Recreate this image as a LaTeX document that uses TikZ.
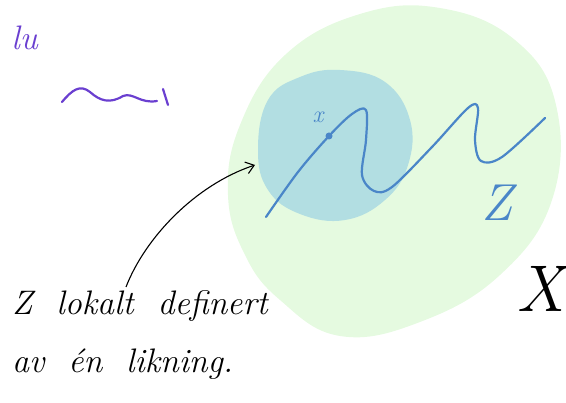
\documentclass[tikz,border=0pt]{standalone}
\usepackage{xcolor}
\usepackage{tikz}
\usetikzlibrary{arrows.meta, positioning}

\definecolor{rumgreen}{HTML}{E5FAE0}
\definecolor{nbhdteal}{HTML}{B2DEE2}
\definecolor{kurveblue}{HTML}{4A86C8}
\definecolor{penpurple}{HTML}{6A3FD0}

\tikzset{
  pen/.style={line width=2.2pt, line cap=round, line join=round},
  hand/.style={font=\fontsize{34}{58}\selectfont\itshape, inner sep=0pt},
}

\begin{document}
\begin{tikzpicture}[x=1pt, y=-1pt, >=Stealth]
    \useasboundingbox (0,0) rectangle (566,403);

    % --- rommet X (grønn flate) ---
    \fill[rumgreen] plot[smooth cycle, tension=0.7] coordinates {
        (228,195) (240,125) (285,55) (360,14) (440,8) (515,40)
        (556,105) (552,200) (500,275) (420,322) (340,336) (280,300) (245,255)};

    % --- omegn rundt x (turkis flate) ---
    \fill[nbhdteal] plot[smooth cycle, tension=0.7] coordinates {
        (258,150) (268,100) (300,77) (340,70) (385,82) (410,120)
        (408,165) (385,200) (345,220) (300,214) (268,190)};

    % --- kurven Z ---
    \draw[pen, kurveblue] plot[smooth, tension=0.55] coordinates {
        (266,217) (298,172) (329,136) (352,114) (366,110) (366,140)
        (362,175) (374,191) (392,187) (432,147) (468,108) (478,108)
        (475,140) (481,161) (502,157) (545,118)};

    % punktet x
    \fill[kurveblue] (329,136) circle (3.5pt);
    \node[font=\fontsize{24}{24}\selectfont\itshape, kurveblue] (xlabel) at (318,117) {x};

    % navnet Z
    \node[font=\fontsize{52}{52}\selectfont\itshape, kurveblue] (zlabel) at (497,203) {Z};

    % navnet X
    \node[font=\fontsize{66}{66}\selectfont\itshape, inner sep=0pt, anchor=east] (xspace) at (565,289) {X};

    % --- lilla rester oppe til venstre ---
    \node[hand, penpurple, anchor=south east] (lu) at (38,50) {lu};
    \draw[pen, penpurple] (62,102) .. controls (72,90) and (80,84) .. (90,92)
        .. controls (100,101) and (110,104) .. (123,96)
        .. controls (133,92) and (140,104) .. (157,101);
    \draw[pen, penpurple] (163,89) -- (168,105);

    % --- forklaring med pil ---
    \node[hand, align=left, anchor=north west] (note) at (12,290)
        {Z\ \ lokalt\ \ definert\\av\ \ én\ \ likning.};
    \coordinate (foot) at (126,287);
    \coordinate (nbhdpt) at (255,165);
    \draw[line width=1.1pt, -{Straight Barb[length=8pt, width=12pt]}]
        (foot) .. controls (145,238) and (195,185) .. (nbhdpt);

\end{tikzpicture}
\end{document}
